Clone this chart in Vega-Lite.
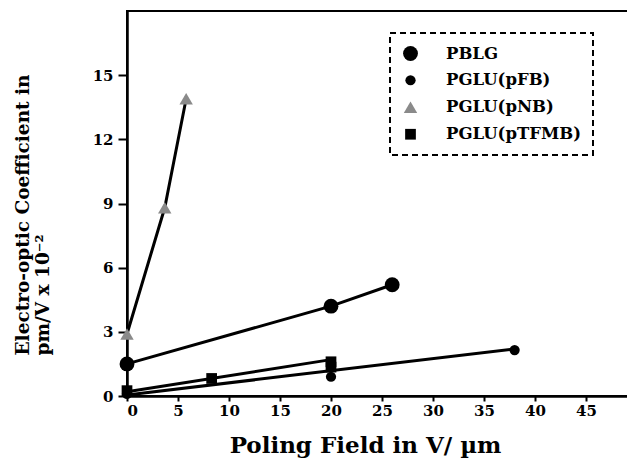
{
  "$schema": "https://vega.github.io/schema/vega-lite/v6.json",
  "width": 510,
  "height": 385,
  "autosize": {"type": "none"},
  "padding": {"left": 127, "top": 11, "right": 0, "bottom": 74},
  "background": "white",
  "config": {
    "view": {"stroke": "black", "strokeWidth": 2},
    "font": "DejaVu Serif",
    "axis": {
      "labelFont": "DejaVu Serif", "labelFontWeight": "bold", "labelFontSize": 15, "labelColor": "black",
      "domainColor": "black", "domainWidth": 2.5, "tickColor": "black", "tickWidth": 2, "tickSize": 6,
      "grid": false, "titleFont": "DejaVu Serif", "titleFontWeight": "bold", "titleColor": "black"
    },
    "legend": {
      "orient": "none", "legendX": 263, "legendY": 22, "title": null,
      "strokeColor": "black", "strokeWidth": 2, "padding": 12,
      "labelFont": "DejaVu Serif", "labelFontWeight": "bold", "labelFontSize": 16.5, "labelColor": "black",
      "labelOffset": 27, "rowPadding": 10, "symbolOpacity": 1
    }
  },
  "datasets": {
    "lines": [
      {"series": "PBLG", "x": 0, "y": 1.5},
      {"series": "PBLG", "x": 20, "y": 4.2},
      {"series": "PBLG", "x": 26, "y": 5.2},
      {"series": "PGLU(pNB)", "x": 0, "y": 2.9},
      {"series": "PGLU(pNB)", "x": 3.7, "y": 8.8},
      {"series": "PGLU(pNB)", "x": 5.8, "y": 13.9},
      {"series": "PGLU(pTFMB)", "x": 0, "y": 0.2},
      {"series": "PGLU(pTFMB)", "x": 20, "y": 1.7},
      {"series": "PGLU(pFB)", "x": 0, "y": 0.05},
      {"series": "PGLU(pFB)", "x": 38, "y": 2.2}
    ],
    "points": [
      {"series": "PBLG", "x": 0, "y": 1.5},
      {"series": "PBLG", "x": 20, "y": 4.2},
      {"series": "PBLG", "x": 26, "y": 5.2},
      {"series": "PGLU(pFB)", "x": 0, "y": 0.1},
      {"series": "PGLU(pFB)", "x": 20, "y": 0.9},
      {"series": "PGLU(pFB)", "x": 38, "y": 2.15},
      {"series": "PGLU(pNB)", "x": 0, "y": 2.9},
      {"series": "PGLU(pNB)", "x": 3.7, "y": 8.8},
      {"series": "PGLU(pNB)", "x": 5.8, "y": 13.9},
      {"series": "PGLU(pTFMB)", "x": 0, "y": 0.25},
      {"series": "PGLU(pTFMB)", "x": 8.3, "y": 0.82},
      {"series": "PGLU(pTFMB)", "x": 20, "y": 1.35},
      {"series": "PGLU(pTFMB)", "x": 20, "y": 1.6}
    ]
  },
  "layer": [
    {
      "data": {"name": "lines"},
      "mark": {"type": "line", "color": "black", "strokeWidth": 3},
      "encoding": {
        "x": {"field": "x", "type": "quantitative", "scale": {"domain": [0, 50], "nice": false},
          "axis": {
            "values": [0, 2.5, 5, 7.5, 10, 12.5, 15, 17.5, 20, 22.5, 25, 27.5, 30, 32.5, 35, 37.5, 40, 42.5, 45, 47.5],
            "labelExpr": "datum.value % 5 == 0 ? datum.label : ''",
            "title": "Poling Field in V/ µm", "titleFontSize": 23, "titlePadding": 16, "labelPadding": 2,
            "titleX": 238, "titleAlign": "center", "tickSize": 5
          }},
        "y": {"field": "y", "type": "quantitative", "scale": {"domain": [0, 18], "nice": false},
          "axis": {
            "values": [0, 1.5, 3, 4.5, 6, 7.5, 9, 10.5, 12, 13.5, 15, 16.5],
            "labelExpr": "datum.value % 3 == 0 ? datum.label : ''",
            "title": ["Electro-optic Coefficient in", "pm/V x 10⁻²"], "titleFontSize": 18.5,
            "titleAlign": "left", "titleX": -95, "titleY": 344, "labelPadding": 5, "tickSize": 9
          }},
        "detail": {"field": "series"}
      }
    },
    {
      "data": {"name": "points"},
      "mark": {"type": "point", "filled": true, "opacity": 1},
      "encoding": {
        "x": {"field": "x", "type": "quantitative"},
        "y": {"field": "y", "type": "quantitative"},
        "shape": {"field": "series", "type": "nominal",
          "scale": {"domain": ["PBLG", "PGLU(pFB)", "PGLU(pNB)", "PGLU(pTFMB)"], "range": ["circle", "circle", "triangle-up", "square"]},
          "legend": {"encoding": {"legend": {"strokeDash": {"value": [6, 4]}}}}},
        "size": {"field": "series", "type": "nominal",
          "scale": {"type": "ordinal", "domain": ["PBLG", "PGLU(pFB)", "PGLU(pNB)", "PGLU(pTFMB)"], "range": [220, 105, 180, 115]},
          "legend": {"encoding": {"legend": {"strokeDash": {"value": [6, 4]}}}}},
        "color": {"field": "series", "type": "nominal",
          "scale": {"domain": ["PBLG", "PGLU(pFB)", "PGLU(pNB)", "PGLU(pTFMB)"], "range": ["black", "black", "#8a8a8a", "black"]},
          "legend": {"encoding": {"legend": {"strokeDash": {"value": [6, 4]}}}}}
      }
    }
  ]
}
